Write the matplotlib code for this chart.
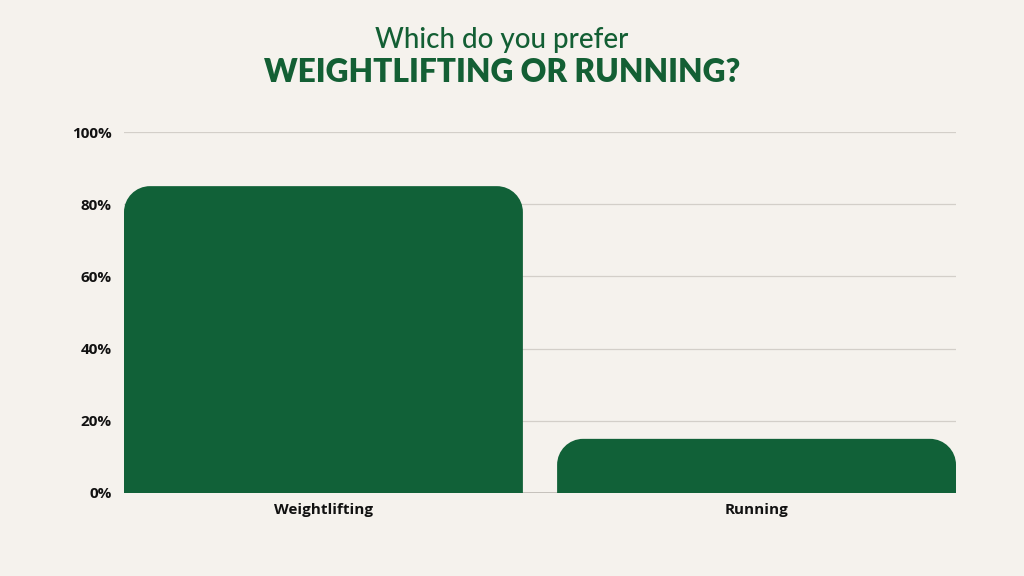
import numpy as np
import matplotlib.pyplot as plt
from matplotlib.path import Path
from matplotlib.patches import PathPatch

categories = ["Weightlifting", "Running"]
shares = [85, 15]
yticks = [0, 20, 40, 60, 80, 100]

BG = "#f5f2ed"
GREEN = "#116138"
TITLE = "#135f34"

plt.rcParams['font.family'] = ['Open Sans', 'DejaVu Sans']

fig = plt.figure(figsize=(10.24, 5.76), dpi=100, facecolor=BG)
ax = fig.add_axes([124/1024, 83/576, 832/1024, 361/576], facecolor=BG)

width = 0.921
ax.set_xlim(-width/2, 1 + width/2)
ax.set_ylim(0, 100)

bars = ax.bar(range(len(categories)), shares, width=width, color=GREEN, zorder=3)
fig.canvas.draw()

# swap the square bars for ones with rounded top corners (radius in pixels)
r_px = 26
px_x = (ax.get_xlim()[1] - ax.get_xlim()[0]) / (832)
px_y = (ax.get_ylim()[1] - ax.get_ylim()[0]) / (361)
k = 0.5523
for b in bars:
    x0, y0 = b.get_x(), b.get_y()
    x1, y1 = x0 + b.get_width(), y0 + b.get_height()
    rx, ry = r_px * px_x, min(r_px * px_y, b.get_height())
    verts = [(x0, y0), (x0, y1 - ry),
             (x0, y1 - ry + k*ry), (x0 + rx - k*rx, y1), (x0 + rx, y1),
             (x1 - rx, y1),
             (x1 - rx + k*rx, y1), (x1, y1 - ry + k*ry), (x1, y1 - ry),
             (x1, y0), (x0, y0)]
    codes = [Path.MOVETO, Path.LINETO,
             Path.CURVE4, Path.CURVE4, Path.CURVE4,
             Path.LINETO,
             Path.CURVE4, Path.CURVE4, Path.CURVE4,
             Path.LINETO, Path.CLOSEPOLY]
    ax.add_patch(PathPatch(Path(verts, codes), facecolor=GREEN, edgecolor='none', zorder=3))
    b.remove()

ax.set_yticks(yticks)
ax.set_yticklabels([f"{v}%" for v in yticks])
ax.set_xticks(range(len(categories)))
ax.set_xticklabels(categories)
ax.tick_params(length=0, labelsize=11, colors="#111111", pad=9)
ax.tick_params(axis='x', pad=7)
for lab in ax.get_xticklabels() + ax.get_yticklabels():
    lab.set_fontweight('bold')

ax.grid(axis='y', color="#d3cfc9", linewidth=0.9, zorder=0)
ax.axhline(0, color="#bcb8b2", linewidth=1.2, zorder=1)
for s in ax.spines.values():
    s.set_visible(False)

fig.text(502/1024, 1 - 40/576, "Which do you prefer", ha='center', va='center',
         fontsize=20, color=TITLE, family=['Lato', 'DejaVu Sans'], fontweight='medium')
fig.text(502/1024, 1 - 73/576, "WEIGHTLIFTING OR RUNNING?", ha='center', va='center',
         fontsize=22.8, color=TITLE, family=['Lato', 'DejaVu Sans'], fontweight='heavy')

fig.savefig("out.png", dpi=100, facecolor=BG)
